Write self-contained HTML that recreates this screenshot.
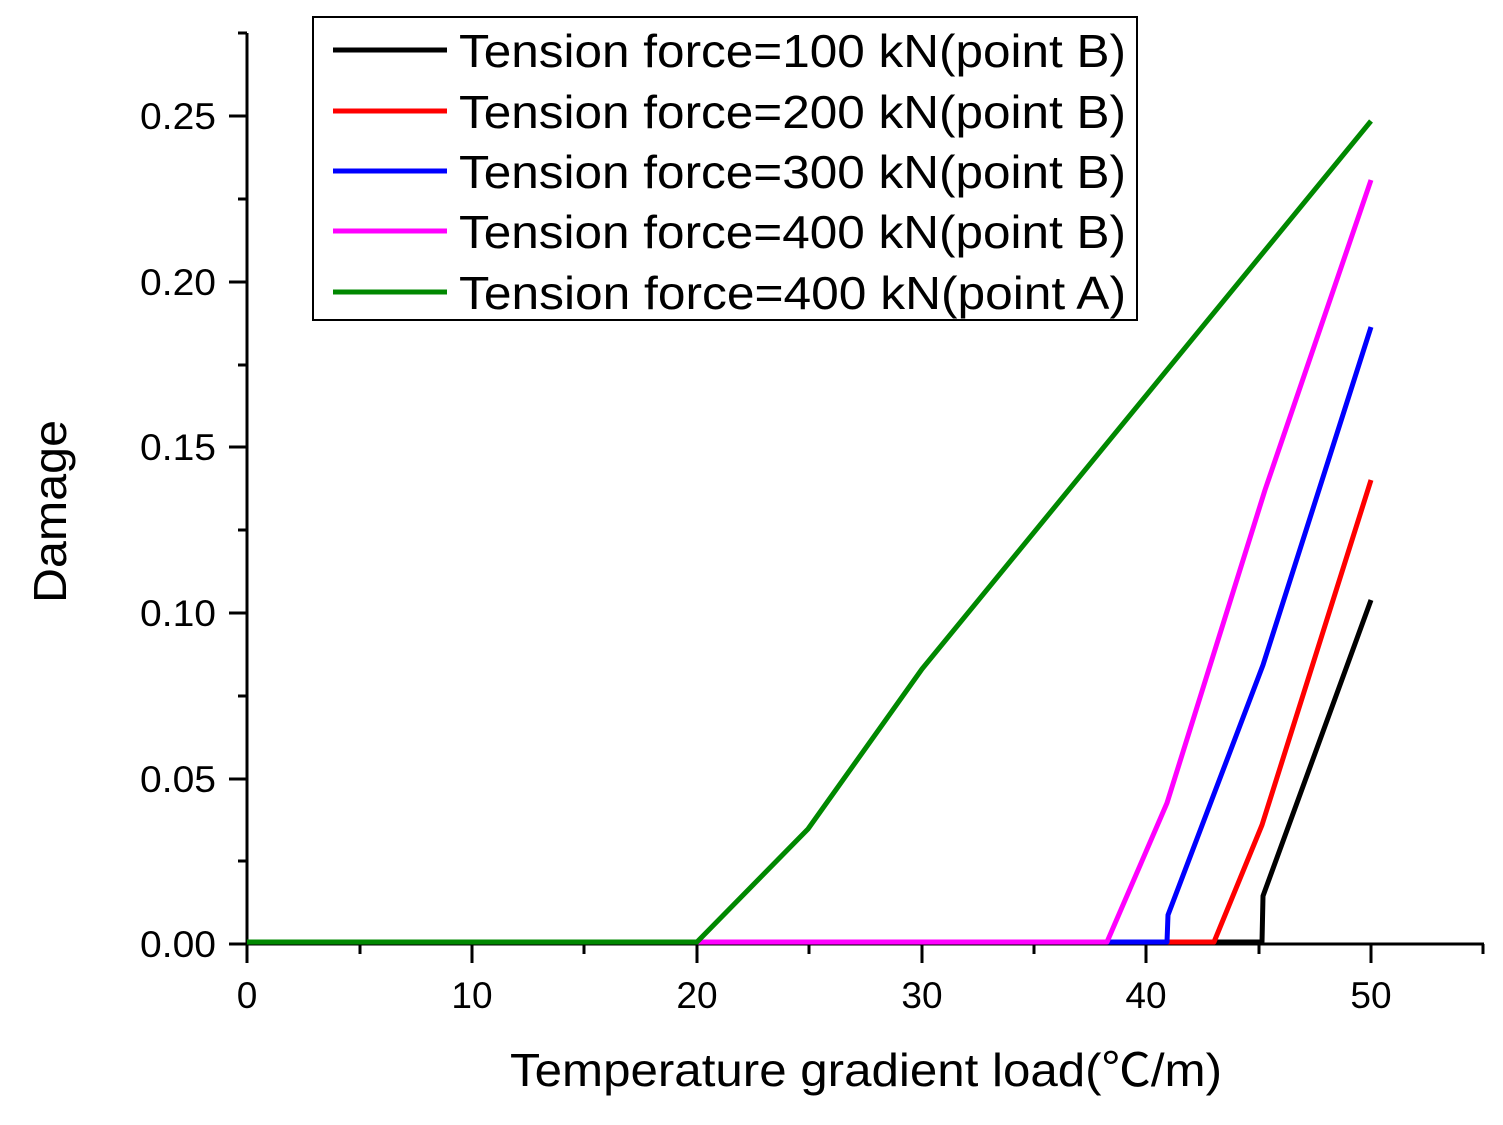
<!DOCTYPE html>
<html><head><style>body{margin:0;background:#fff}</style></head><body>
<svg width="1503" height="1120" viewBox="0 0 1503 1120" xmlns="http://www.w3.org/2000/svg" font-family="'Liberation Sans','Noto Sans CJK SC',sans-serif">
<g stroke="#000" stroke-width="3" fill="none">
<line x1="247" y1="33" x2="247" y2="946"/>
<line x1="245" y1="944" x2="1484" y2="944"/>
<line x1="229" y1="944" x2="247" y2="944"/>
<line x1="229" y1="779" x2="247" y2="779"/>
<line x1="229" y1="613" x2="247" y2="613"/>
<line x1="229" y1="447" x2="247" y2="447"/>
<line x1="229" y1="282" x2="247" y2="282"/>
<line x1="229" y1="116" x2="247" y2="116"/>
<line x1="238" y1="861" x2="247" y2="861"/>
<line x1="238" y1="696" x2="247" y2="696"/>
<line x1="238" y1="530" x2="247" y2="530"/>
<line x1="238" y1="365" x2="247" y2="365"/>
<line x1="238" y1="199" x2="247" y2="199"/>
<line x1="238" y1="33" x2="247" y2="33"/>
<line x1="247" y1="944" x2="247" y2="963"/>
<line x1="472" y1="944" x2="472" y2="963"/>
<line x1="697" y1="944" x2="697" y2="963"/>
<line x1="922" y1="944" x2="922" y2="963"/>
<line x1="1146" y1="944" x2="1146" y2="963"/>
<line x1="1371" y1="944" x2="1371" y2="963"/>
<line x1="360" y1="944" x2="360" y2="954"/>
<line x1="584" y1="944" x2="584" y2="954"/>
<line x1="809" y1="944" x2="809" y2="954"/>
<line x1="1034" y1="944" x2="1034" y2="954"/>
<line x1="1259" y1="944" x2="1259" y2="954"/>
<line x1="1483" y1="944" x2="1483" y2="954"/>
</g>
<g font-size="37" fill="#000">
<text x="140" y="957" textLength="76" lengthAdjust="spacingAndGlyphs">0.00</text>
<text x="140" y="792" textLength="76" lengthAdjust="spacingAndGlyphs">0.05</text>
<text x="140" y="626" textLength="76" lengthAdjust="spacingAndGlyphs">0.10</text>
<text x="140" y="460" textLength="76" lengthAdjust="spacingAndGlyphs">0.15</text>
<text x="140" y="295" textLength="76" lengthAdjust="spacingAndGlyphs">0.20</text>
<text x="140" y="129" textLength="76" lengthAdjust="spacingAndGlyphs">0.25</text>
</g>
<g font-size="37" text-anchor="middle" fill="#000">
<text x="247" y="1008">0</text>
<text x="472" y="1008">10</text>
<text x="697" y="1008">20</text>
<text x="922" y="1008">30</text>
<text x="1146" y="1008">40</text>
<text x="1371" y="1008">50</text>
</g>
<text x="510" y="1086" font-size="46" textLength="712" lengthAdjust="spacingAndGlyphs">Temperature gradient load(℃/m)</text>
<text transform="translate(66,603) rotate(-90)" font-size="46" textLength="183" lengthAdjust="spacingAndGlyphs">Damage</text>
<g fill="none" stroke-width="5" stroke-linejoin="round">
<polyline stroke="#000" points="247,942 1262,942 1263,896 1371,600"/>
<polyline stroke="#f00" points="247,942 1214,942 1262,825 1371,480"/>
<polyline stroke="#00f" points="247,942 1167,942 1168,915 1263,665 1371,327"/>
<polyline stroke="#f0f" points="247,942 1107,942 1167,803 1265,490 1371,180"/>
<polyline stroke="#080" points="247,942 697,942 808,829 922,669 1371,121"/>
</g>
<rect x="313" y="17" width="824" height="303" fill="#fff" stroke="#000" stroke-width="2"/>
<g stroke-width="5">
<line x1="333" y1="50" x2="447" y2="50" stroke="#000"/>
<line x1="333" y1="111" x2="447" y2="111" stroke="#f00"/>
<line x1="333" y1="171" x2="447" y2="171" stroke="#00f"/>
<line x1="333" y1="231" x2="447" y2="231" stroke="#f0f"/>
<line x1="333" y1="292" x2="447" y2="292" stroke="#080"/>
</g>
<g font-size="46" fill="#000">
<text x="459" y="67" textLength="667" lengthAdjust="spacingAndGlyphs">Tension force=100 kN(point B)</text>
<text x="459" y="128" textLength="667" lengthAdjust="spacingAndGlyphs">Tension force=200 kN(point B)</text>
<text x="459" y="188" textLength="667" lengthAdjust="spacingAndGlyphs">Tension force=300 kN(point B)</text>
<text x="459" y="248" textLength="667" lengthAdjust="spacingAndGlyphs">Tension force=400 kN(point B)</text>
<text x="459" y="309" textLength="667" lengthAdjust="spacingAndGlyphs">Tension force=400 kN(point A)</text>
</g>
</svg>
</body></html>
